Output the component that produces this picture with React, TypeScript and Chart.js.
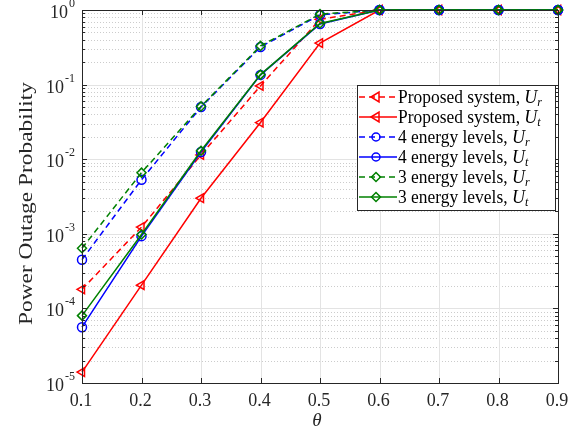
import React, { useEffect, useRef } from "react";
import { Chart, registerables } from "chart.js";

Chart.register(...registerables);

const thetas = [0.1, 0.2, 0.3, 0.4, 0.5, 0.6, 0.7, 0.8, 0.9];
const propUr = [1.8e-4, 1.23e-3, 0.0114, 0.096, 0.75, 1, 1, 1, 1];
const propUt = [1.4e-5, 2.05e-4, 3.0e-3, 0.031, 0.36, 1, 1, 1, 1];
const four_Ur = [4.5e-4, 5.3e-3, 0.05, 0.32, 0.86, 1, 1, 1, 1];
const four_Ut = [5.6e-5, 9.3e-4, 0.0125, 0.135, 0.65, 1, 1, 1, 1];
const three_Ur = [6.4e-4, 6.6e-3, 0.051, 0.33, 0.88, 1, 1, 1, 1];
const three_Ut = [8.0e-5, 9.8e-4, 0.013, 0.136, 0.66, 1, 1, 1, 1];
const xTickLabels = ["0.1", "0.2", "0.3", "0.4", "0.5", "0.6", "0.7", "0.8", "0.9"];
const yExponents = [0, -1, -2, -3, -4, -5];
const legendNames = ["Proposed system, ", "Proposed system, ", "4 energy levels, ", "4 energy levels, ", "3 energy levels, ", "3 energy levels, "];
const legendSubs = ["r", "t", "r", "t", "r", "t"];

const RED = "#ff0000";
const BLUE = "#0000ff";
const GREEN = "#008000";
const SERIF = "'Liberation Serif', 'DejaVu Serif', serif";
const TEXT = "#262626";

function drawMarker(ctx: CanvasRenderingContext2D, style: string, x: number, y: number, color: string) {
  ctx.save();
  ctx.strokeStyle = color;
  ctx.lineWidth = 1.5;
  ctx.setLineDash([]);
  ctx.beginPath();
  if (style === "tri") {
    const r = 5;
    ctx.moveTo(x - r, y);
    ctx.lineTo(x + r * 0.6, y - r);
    ctx.lineTo(x + r * 0.6, y + r);
    ctx.closePath();
  } else if (style === "circ") {
    ctx.arc(x, y, 4, 0, Math.PI * 2);
  } else {
    const r = 4.5;
    ctx.moveTo(x, y - r);
    ctx.lineTo(x + r, y);
    ctx.lineTo(x, y + r);
    ctx.lineTo(x - r, y);
    ctx.closePath();
  }
  ctx.stroke();
  ctx.restore();
}

function wideText(ctx: CanvasRenderingContext2D, text: string, x: number, y: number, hs: number) {
  ctx.save();
  ctx.translate(x, y);
  ctx.scale(hs, 1);
  ctx.textAlign = "left";
  ctx.fillText(text, 0, 0);
  const w = ctx.measureText(text).width * hs;
  ctx.restore();
  return w;
}

const framePlugin = {
  id: "frame",
  beforeDatasetsDraw(chart: any) {
    const ctx: CanvasRenderingContext2D = chart.ctx;
    const { left, right, top, bottom } = chart.chartArea;
    const xs = chart.scales.x;
    const ys = chart.scales.y;
    ctx.save();
    ctx.fillStyle = "#ffffff";
    ctx.fillRect(left, top, right - left, bottom - top);
    ctx.strokeStyle = "rgba(170,170,170,0.6)";
    ctx.lineWidth = 1;
    ctx.setLineDash([1, 2]);
    for (let e = -5; e < 0; e++) {
      for (let m = 2; m <= 9; m++) {
        const py = Math.round(ys.getPixelForValue(m * Math.pow(10, e))) + 0.5;
        ctx.beginPath();
        ctx.moveTo(left, py);
        ctx.lineTo(right, py);
        ctx.stroke();
      }
    }
    ctx.setLineDash([]);
    ctx.strokeStyle = "#e3e3e3";
    for (const e of yExponents) {
      const py = Math.round(ys.getPixelForValue(Math.pow(10, e))) + 0.5;
      ctx.beginPath();
      ctx.moveTo(left, py);
      ctx.lineTo(right, py);
      ctx.stroke();
    }
    for (const t of thetas) {
      const px = Math.round(xs.getPixelForValue(t)) + 0.5;
      ctx.beginPath();
      ctx.moveTo(px, top);
      ctx.lineTo(px, bottom);
      ctx.stroke();
    }
    ctx.restore();
  },
  afterDatasetsDraw(chart: any) {
    const ctx: CanvasRenderingContext2D = chart.ctx;
    const { left, right, top, bottom } = chart.chartArea;
    const xs = chart.scales.x;
    const ys = chart.scales.y;
    ctx.save();
    ctx.strokeStyle = TEXT;
    ctx.lineWidth = 1;
    ctx.setLineDash([]);
    ctx.strokeRect(Math.round(left) + 0.5, Math.round(top) + 0.5, Math.round(right - left), Math.round(bottom - top));
    ctx.beginPath();
    for (const t of thetas) {
      const px = Math.round(xs.getPixelForValue(t)) + 0.5;
      ctx.moveTo(px, bottom);
      ctx.lineTo(px, bottom - 5);
      ctx.moveTo(px, top);
      ctx.lineTo(px, top + 5);
    }
    for (let e = -5; e <= 0; e++) {
      const py = Math.round(ys.getPixelForValue(Math.pow(10, e))) + 0.5;
      ctx.moveTo(left, py);
      ctx.lineTo(left + 5, py);
      ctx.moveTo(right, py);
      ctx.lineTo(right - 5, py);
      if (e < 0) {
        for (let m = 2; m <= 9; m++) {
          const pm = Math.round(ys.getPixelForValue(m * Math.pow(10, e))) + 0.5;
          ctx.moveTo(left, pm);
          ctx.lineTo(left + 3, pm);
          ctx.moveTo(right, pm);
          ctx.lineTo(right - 3, pm);
        }
      }
    }
    ctx.stroke();
    // x tick labels
    ctx.fillStyle = TEXT;
    ctx.font = `18px ${SERIF}`;
    ctx.textAlign = "center";
    ctx.textBaseline = "middle";
    thetas.forEach((t, i) => {
      ctx.fillText(xTickLabels[i], xs.getPixelForValue(t) - 1, bottom + 18);
    });
    // y tick labels
    for (const e of yExponents) {
      const py = ys.getPixelForValue(Math.pow(10, e));
      const expStr = e === 0 ? "0" : "-" + String(-e);
      ctx.font = `12px ${SERIF}`;
      const ew = ctx.measureText(expStr).width;
      const expRight = left - 7;
      ctx.textAlign = "right";
      ctx.textBaseline = "alphabetic";
      ctx.fillText(expStr, expRight, py - 3);
      ctx.font = `18px ${SERIF}`;
      ctx.fillText("10", expRight - ew - 1, py + 8);
    }
    // x title
    ctx.font = `italic 19px ${SERIF}`;
    ctx.textAlign = "center";
    ctx.textBaseline = "middle";
    ctx.fillText("\u03b8", (left + right) / 2 - 3, bottom + 38);
    // y title
    ctx.save();
    ctx.translate(27, (top + bottom) / 2 + 7);
    ctx.rotate(-Math.PI / 2);
    ctx.font = `18px ${SERIF}`;
    const title = "Power Outage Probability";
    const tw = ctx.measureText(title).width;
    const hs = 243 / tw;
    ctx.textBaseline = "middle";
    wideText(ctx, title, -243 / 2, 0, hs);
    ctx.restore();

    // legend
    const lx = right - 201;
    const ly = top + 75;
    const lw = 198;
    const lh = 125;
    ctx.fillStyle = "#ffffff";
    ctx.fillRect(lx, ly, lw, lh);
    ctx.strokeStyle = TEXT;
    ctx.lineWidth = 1;
    ctx.strokeRect(Math.round(lx) + 0.5, Math.round(ly) + 0.5, lw, lh);
    const colors = [RED, RED, BLUE, BLUE, GREEN, GREEN];
    const styles = ["tri", "tri", "circ", "circ", "dia", "dia"];
    ctx.font = `18px ${SERIF}`;
    const lhs = 122 / ctx.measureText(legendNames[0].trimEnd()).width;
    for (let i = 0; i < 6; i++) {
      const yy = ly + 12 + i * 20;
      ctx.strokeStyle = colors[i];
      ctx.lineWidth = 1.5;
      ctx.setLineDash(i % 2 === 0 ? [6, 4] : []);
      ctx.beginPath();
      ctx.moveTo(lx + 2, yy);
      ctx.lineTo(lx + 40, yy);
      ctx.stroke();
      ctx.setLineDash([]);
      drawMarker(ctx, styles[i], lx + 19, yy, colors[i]);
      ctx.fillStyle = "#000000";
      ctx.textBaseline = "middle";
      ctx.font = `18px ${SERIF}`;
      let tx = lx + 41;
      tx += wideText(ctx, legendNames[i], tx, yy + 1, lhs);
      ctx.font = `italic 18px ${SERIF}`;
      tx += wideText(ctx, "U", tx, yy + 1, 1);
      ctx.font = `italic 12px ${SERIF}`;
      wideText(ctx, legendSubs[i], tx, yy + 6, 1);
    }
    ctx.restore();
  },
};

function ds(label: string, data: number[], color: string, dashed: boolean, style: string, order: number) {
  return {
    label,
    data: thetas.map((t, i) => ({ x: t, y: data[i] })),
    borderColor: color,
    backgroundColor: "rgba(0,0,0,0)",
    borderWidth: 1.5,
    borderDash: dashed ? [6, 4] : [],
    pointStyle: style === "tri" ? "triangle" : style === "circ" ? "circle" : "rectRot",
    rotation: style === "tri" ? -90 : 0,
    pointRadius: style === "tri" ? 5 : 4.5,
    pointBorderWidth: 1.5,
    pointBorderColor: color,
    pointBackgroundColor: "rgba(0,0,0,0)",
    tension: 0,
    clip: false,
    order,
  };
}

export default function App() {
  const ref = useRef<HTMLCanvasElement>(null);
  useEffect(() => {
    if (!ref.current) return;
    const chart = new Chart(ref.current, {
      type: "line",
      data: {
        datasets: [
          ds("Proposed system, Ur", propUr, RED, true, "tri", 6),
          ds("Proposed system, Ut", propUt, RED, false, "tri", 5),
          ds("4 energy levels, Ur", four_Ur, BLUE, true, "circ", 4),
          ds("4 energy levels, Ut", four_Ut, BLUE, false, "circ", 3),
          ds("3 energy levels, Ur", three_Ur, GREEN, true, "dia", 2),
          ds("3 energy levels, Ut", three_Ut, GREEN, false, "dia", 1),
        ] as any,
      },
      options: {
        animation: false,
        responsive: false,
        maintainAspectRatio: false,
        layout: { padding: { left: 82, right: 18, top: 10, bottom: 51 } },
        plugins: { legend: { display: false }, tooltip: { enabled: false } },
        scales: {
          x: { type: "linear", min: 0.1, max: 0.9, display: false },
          y: { type: "logarithmic", min: 1e-5, max: 1, display: false },
        },
      },
      plugins: [framePlugin],
    });
    return () => chart.destroy();
  }, []);
  return (
    <div style={{ position: "fixed", left: 0, top: 0, width: 576, height: 434, background: "#fff" }}>
      <canvas ref={ref} width={576} height={434} style={{ width: 576, height: 434 }} />
    </div>
  );
}
